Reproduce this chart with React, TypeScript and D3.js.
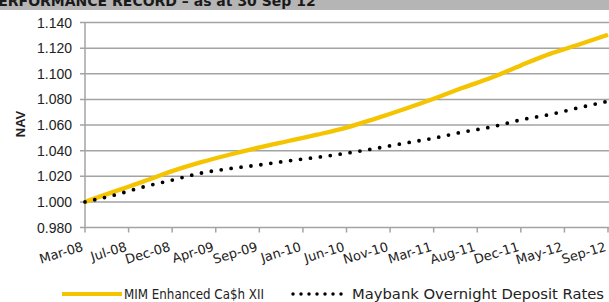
import React, { useEffect, useRef } from "react";
import * as d3 from "d3";

// quarterly readings, month index from Mar-08
const months = [0, 3, 6, 9, 12, 15, 18, 21, 24, 27, 30, 33, 36, 39, 42, 45, 48, 51, 54];
const mimNav = [
  1.0, 1.008, 1.0158, 1.024, 1.031, 1.037, 1.0425, 1.0475, 1.0525, 1.058, 1.065, 1.0725, 1.0805, 1.089,
  1.097, 1.1065, 1.1155, 1.1228, 1.1305,
];
const maybankNav = [
  1.0, 1.0052, 1.0116, 1.017, 1.0225, 1.026, 1.0288, 1.032, 1.0348, 1.038, 1.0417, 1.0458, 1.0497,
  1.0545, 1.0585, 1.064, 1.0682, 1.0735, 1.0785,
];
const xTickLabels = [
  "Mar-08", "Jul-08", "Dec-08", "Apr-09", "Sep-09", "Jan-10", "Jun-10",
  "Nov-10", "Mar-11", "Aug-11", "Dec-11", "May-12", "Sep-12",
];
const yTicks = [0.98, 1.0, 1.02, 1.04, 1.06, 1.08, 1.1, 1.12, 1.14];

export default function App() {
  const svgRef = useRef<SVGSVGElement>(null);

  useEffect(() => {
    const svg = d3.select(svgRef.current);
    svg.selectAll("*").remove();
    const width = 609;
    const height = 302;
    const left = 85;
    const right = 608;
    const top = 22.5;
    const bottom = 227.5;
    const grid = "#a3a3a3";
    const gold = "#f5c400";

    const x = d3.scaleLinear().domain([0, 54]).range([left, right]);
    const y = d3.scaleLinear().domain([0.98, 1.14]).range([bottom, top]);

    svg.append("rect").attr("width", width).attr("height", height).attr("fill", "#fff");

    // header band (cut off at top)
    svg.append("rect").attr("x", 0).attr("y", 0).attr("width", width).attr("height", 10).attr("fill", "#b5b5b5");
    svg
      .append("text")
      .attr("x", -12)
      .attr("y", 5.5)
      .text("PERFORMANCE RECORD \u2013 as at 30 Sep 12")
      .style("font-family", "DejaVu Sans")
      .style("font-weight", "bold")
      .style("font-size", "14px")
      .attr("fill", "#1a1a1a");

    // gridlines
    svg
      .append("g")
      .selectAll("line")
      .data(yTicks)
      .join("line")
      .attr("x1", left - 5)
      .attr("x2", width)
      .attr("y1", (d) => y(d))
      .attr("y2", (d) => y(d))
      .attr("stroke", grid)
      .attr("stroke-width", 1.5);

    // y axis line
    svg.append("line").attr("x1", left).attr("x2", left).attr("y1", top).attr("y2", bottom).attr("stroke", grid).attr("stroke-width", 1.5);

    // y labels
    svg
      .append("g")
      .selectAll("text")
      .data(yTicks)
      .join("text")
      .attr("x", 72)
      .attr("y", (d) => y(d) + 5)
      .attr("text-anchor", "end")
      .text((d) => d3.format(".3f")(d))
      .style("font-family", "Liberation Sans")
      .style("font-size", "14px")
      .attr("fill", "#222");

    svg
      .append("text")
      .attr("transform", `translate(25,124) rotate(-90)`)
      .attr("text-anchor", "middle")
      .text("NAV")
      .style("font-family", "Liberation Sans")
      .style("font-weight", "bold")
      .style("font-size", "13px")
      .attr("fill", "#222");

    // x ticks + labels
    const tickPos = xTickLabels.map((_, i) => (i * 54) / (xTickLabels.length - 1));
    svg
      .append("g")
      .selectAll("line")
      .data(tickPos)
      .join("line")
      .attr("x1", (d) => x(d))
      .attr("x2", (d) => x(d))
      .attr("y1", bottom)
      .attr("y2", bottom + 5)
      .attr("stroke", grid)
      .attr("stroke-width", 1.5);
    svg
      .append("g")
      .selectAll("text")
      .data(xTickLabels)
      .join("text")
      .attr("transform", (_, i) => `translate(${x(tickPos[i]) - 1},${bottom + 23}) rotate(-17)`)
      .attr("text-anchor", "end")
      .text((d) => d)
      .style("font-family", "DejaVu Sans")
      .style("font-size", "13px")
      .attr("fill", "#222");

    const line = d3
      .line<number>()
      .x((_, i) => x(months[i]))
      .y((d) => y(d))
      .curve(d3.curveMonotoneX);

    svg
      .append("path")
      .attr("d", line(mimNav))
      .attr("fill", "none")
      .attr("stroke", gold)
      .attr("stroke-width", 4.3);

    svg
      .append("path")
      .attr("d", line(maybankNav))
      .attr("fill", "none")
      .attr("stroke", "#000")
      .attr("stroke-width", 3.8)
      .attr("stroke-linecap", "round")
      .attr("stroke-dasharray", "0 10");

    // legend
    const ly = 294;
    svg.append("line").attr("x1", 62).attr("x2", 122).attr("y1", ly).attr("y2", ly).attr("stroke", gold).attr("stroke-width", 4);
    svg
      .append("text")
      .attr("x", 124)
      .attr("y", ly + 5)
      .attr("textLength", 140)
      .attr("lengthAdjust", "spacingAndGlyphs")
      .text("MIM Enhanced Ca$h XII")
      .style("font-family", "DejaVu Sans")
      .style("font-size", "14px")
      .attr("fill", "#222");
    svg
      .append("line")
      .attr("x1", 293)
      .attr("x2", 342)
      .attr("y1", ly)
      .attr("y2", ly)
      .attr("stroke", "#000")
      .attr("stroke-width", 3.5)
      .attr("stroke-linecap", "round")
      .attr("stroke-dasharray", "0 8");
    svg
      .append("text")
      .attr("x", 352)
      .attr("y", ly + 5)
      .attr("textLength", 252)
      .attr("lengthAdjust", "spacingAndGlyphs")
      .text("Maybank Overnight Deposit Rates")
      .style("font-family", "DejaVu Sans")
      .style("font-size", "14px")
      .attr("fill", "#222");
  }, []);

  return (
    <svg
      ref={svgRef}
      width={609}
      height={302}
      style={{ position: "absolute", left: 0, top: 0, display: "block" }}
    ></svg>
  );
}
